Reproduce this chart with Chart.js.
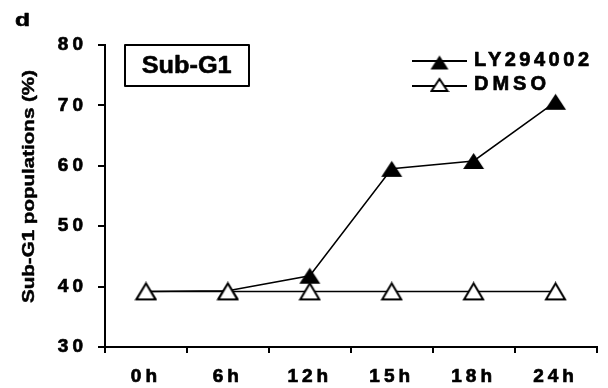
<!DOCTYPE html>
<html><head><meta charset="utf-8">
<script src="https://cdn.jsdelivr.net/npm/chart.js@4"></script>
<style>html,body{margin:0;padding:0;background:#fff}#wrap{width:608px;height:388px}</style>
</head><body><div id="wrap"><canvas id="c" width="608" height="388"></canvas></div>
<script>
// ---- data ----
const categories = ['0h', '6h', '12h', '15h', '18h', '24h'];
const ly294002 = [39.2, 39.3, 41.8, 59.5, 60.8, 70.6];
const dmso = [39.2, 39.2, 39.2, 39.2, 39.2, 39.2];
const yTicks = [30, 40, 50, 60, 70, 80];
const seriesNames = ['LY294002', 'DMSO'];
const panelLetter = 'd';
const boxTitle = 'Sub-G1';
const yTitle = 'Sub-G1 populations (%)';

const FONT = '"Liberation Sans", Arial, sans-serif';

function makeTri(w, h, filled, lw) {
  const c = document.createElement('canvas');
  c.width = w + 4; c.height = h + 4;
  const g = c.getContext('2d');
  g.beginPath();
  g.moveTo(c.width / 2, 2);
  g.lineTo(2, h + 2);
  g.lineTo(w + 2, h + 2);
  g.closePath();
  if (filled) { g.fillStyle = '#000'; g.fill(); }
  else { g.fillStyle = '#fff'; g.fill(); g.lineWidth = lw; g.strokeStyle = '#000'; g.lineJoin = 'miter'; g.stroke(); }
  return c;
}
const triFilled = makeTri(21, 16, true, 0);
const triOpen = makeTri(19, 16, false, 2);
const triFilledLeg = makeTri(18, 14, true, 0);
const triOpenLeg = makeTri(16, 12, false, 2);

// letter-spaced text, spacing chosen to reach the target width
function drawSpaced(ctx, text, x, y, target, align, stroke) {
  ctx.letterSpacing = '0px';
  const w0 = ctx.measureText(text).width;
  const n = text.length;
  const s = n > 1 ? (target - w0) / (n - 1) : 0;
  ctx.letterSpacing = s + 'px';
  let sx = x;
  if (align === 'center') sx = x - target / 2;
  else if (align === 'right') sx = x - target;
  ctx.textAlign = 'left';
  ctx.fillText(text, sx, y);
  if (stroke) { ctx.lineWidth = stroke; ctx.strokeText(text, sx, y); }
  ctx.letterSpacing = '0px';
}
// horizontally stretched text to reach the target width
function drawStretched(ctx, text, x, y, target, align, stroke) {
  ctx.letterSpacing = '0px';
  const w0 = ctx.measureText(text).width;
  const k = target / w0;
  let sx = x;
  if (align === 'center') sx = x - target / 2;
  else if (align === 'right') sx = x - target;
  ctx.save();
  ctx.translate(sx, y);
  ctx.scale(k, 1);
  ctx.textAlign = 'left';
  ctx.fillText(text, 0, 0);
  if (stroke) { ctx.lineWidth = stroke / k; ctx.strokeText(text, 0, 0); }
  ctx.restore();
}

const deco = {
  id: 'deco',
  beforeDraw(chart) {
    chart.ctx.letterSpacing = '4px';
  },
  afterDraw(chart) {
    const ctx = chart.ctx;
    ctx.save();
    ctx.fillStyle = '#000';
    ctx.strokeStyle = '#000';
    ctx.lineJoin = 'round';
    ctx.textBaseline = 'alphabetic';
    // panel letter
    ctx.font = 'bold 19px ' + FONT;
    drawStretched(ctx, panelLetter, 15, 26, 15, 'left', 0.8);
    // title box
    ctx.lineWidth = 2;
    ctx.strokeRect(125, 45, 124, 41);
    ctx.font = 'bold 23px ' + FONT;
    drawStretched(ctx, boxTitle, 186.7, 72.5, 90, 'center', 0.6);
    // legend
    ctx.lineWidth = 2;
    ctx.beginPath(); ctx.moveTo(412, 61); ctx.lineTo(467, 61); ctx.stroke();
    ctx.drawImage(triFilledLeg, 439.5 - triFilledLeg.width / 2, 62.5 - triFilledLeg.height / 2);
    ctx.beginPath(); ctx.moveTo(412, 86); ctx.lineTo(467, 86); ctx.stroke();
    ctx.drawImage(triOpenLeg, 439.5 - triOpenLeg.width / 2, 85 - triOpenLeg.height / 2);
    ctx.font = 'bold 20px ' + FONT;
    drawSpaced(ctx, seriesNames[0], 474, 66, 115, 'left', 0.7);
    drawSpaced(ctx, seriesNames[1], 474, 89.5, 72, 'left', 0.7);
    // y title
    ctx.save();
    ctx.font = 'bold 16px ' + FONT;
    ctx.translate(34, 303);
    ctx.rotate(-Math.PI / 2);
    drawStretched(ctx, yTitle, 0, 0, 233, 'left', 0.6);
    ctx.restore();
    ctx.restore();
  }
};

const tickFont = { family: FONT, size: 19, weight: 'bold' };

new Chart(document.getElementById('c'), {
  type: 'line',
  data: {
    labels: categories,
    datasets: [
      { label: seriesNames[0], data: ly294002, borderColor: '#000', borderWidth: 1.5, pointStyle: triFilled, pointRadius: 10, tension: 0, order: 2, fill: false },
      { label: seriesNames[1], data: dmso, borderColor: '#000', borderWidth: 1.5, pointStyle: triOpen, pointRadius: 10, tension: 0, order: 1, fill: false }
    ]
  },
  options: {
    responsive: false,
    animation: false,
    layout: { padding: { left: 0, right: 3, top: 45, bottom: 0 } },
    plugins: { legend: { display: false }, tooltip: { enabled: false }, title: { display: false } },
    scales: {
      x: {
        type: 'category',
        offset: true,
        grid: { display: true, offset: true, drawOnChartArea: false, drawTicks: true, tickLength: 6, color: '#000', lineWidth: 2 },
        border: { display: true, color: '#000', width: 2 },
        ticks: { color: '#000', font: tickFont, padding: 12, maxRotation: 0, autoSkip: false, textStrokeColor: '#000', textStrokeWidth: 0.7 },
        afterFit(s) { s.height = 41; }
      },
      y: {
        min: yTicks[0],
        max: yTicks[yTicks.length - 1],
        grid: { display: true, drawOnChartArea: false, drawTicks: true, tickLength: 7, color: '#000', lineWidth: 2 },
        border: { display: true, color: '#000', width: 2 },
        ticks: { stepSize: 10, color: '#000', font: tickFont, padding: 11, textStrokeColor: '#000', textStrokeWidth: 0.7 },
        afterBuildTicks(s) { s.ticks = yTicks.map(v => ({ value: v })); },
        afterFit(s) { s.width = 105; }
      }
    }
  },
  plugins: [deco]
});
</script>
</body></html>
